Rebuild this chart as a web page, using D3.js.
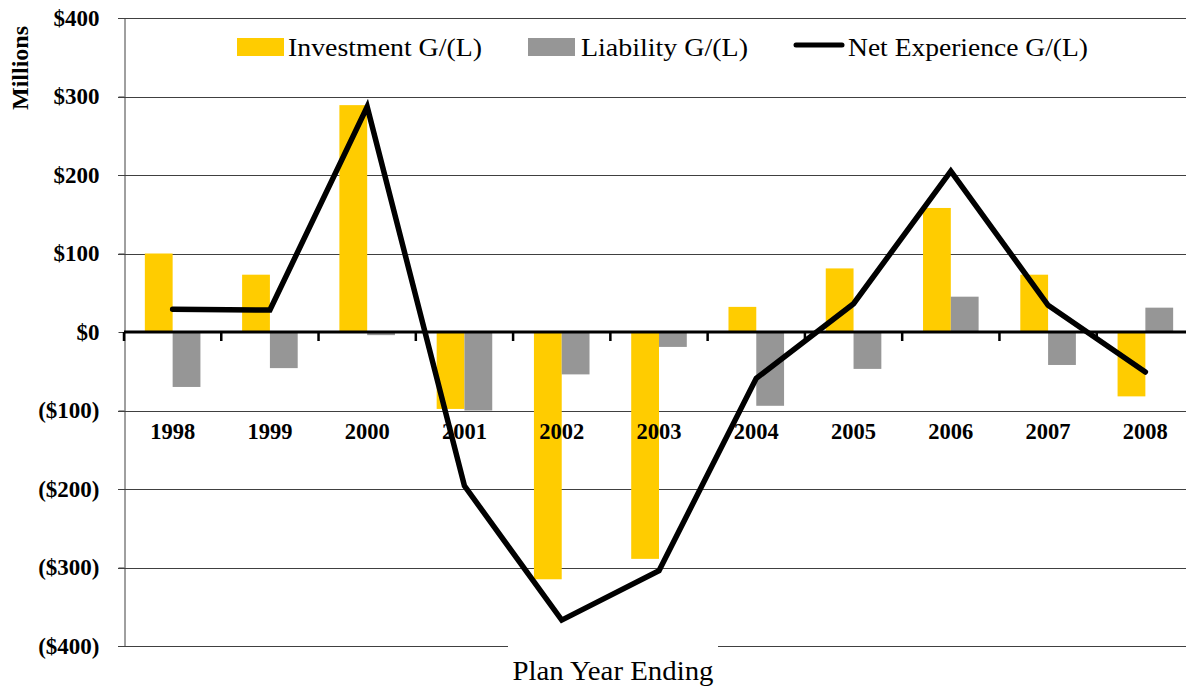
<!DOCTYPE html>
<html>
<head>
<meta charset="utf-8">
<script src="https://cdn.jsdelivr.net/npm/d3@7"></script>
<style>
  body { margin: 0; background: #fff; }
  svg { display: block; }
</style>
</head>
<body>
<div id="chart"></div>
<script>
// data (millions of dollars)
const years = ['1998', '1999', '2000', '2001', '2002', '2003', '2004', '2005', '2006', '2007', '2008'];
const investment = [100, 73, 289, -98, -315, -289, 32, 81, 158, 73, -82];
const liability = [-70, -46, -4, -100, -54, -19, -94, -47, 45, -42, 31];
const netExperience = [29, 28, 287, -196, -367, -304, -59, 36, 205, 34, -51];
const yTicks = [400, 300, 200, 100, 0, -100, -200, -300, -400];

const seriesNames = ['Investment G/(L)', 'Liability G/(L)', 'Net Experience G/(L)'];
const colors = { inv: '#FFCC00', liab: '#969696', net: '#000000' };

const W = 1186;
const H = 688;
const serif = '"Liberation Serif", "Times New Roman", serif';

const svg = d3.select('#chart')
  .append('svg')
  .attr('width', W)
  .attr('height', H);

// scales
const x = d3.scaleBand().domain(years).range([124, 1194]).paddingInner(0).paddingOuter(0);
const xSub = d3.scaleBand().domain(['inv', 'liab']).range([0, x.bandwidth()]).paddingInner(0).paddingOuter(0.75);
const y = d3.scaleLinear().domain([-400, 400]).range([646, 18]);

// gridlines
svg.append('g')
  .selectAll('line')
  .data(yTicks.filter(d => d !== 0))
  .enter()
  .append('line')
  .attr('x1', 118)
  .attr('x2', W)
  .attr('y1', d => Math.round(y(d)) + 0.5)
  .attr('y2', d => Math.round(y(d)) + 0.5)
  .attr('stroke', '#404040')
  .attr('stroke-width', 1);

// y axis
const gY = svg.append('g')
  .attr('transform', 'translate(124.5,0)')
  .call(d3.axisLeft(y).tickValues(yTicks).tickSize(6).tickPadding(19)
    .tickFormat(d => d < 0 ? `($${-d})` : `$${d}`));
gY.select('.domain').attr('stroke', '#404040');
gY.selectAll('.tick line').attr('stroke', '#404040');
gY.selectAll('text')
  .attr('font-family', serif)
  .attr('font-weight', 'bold')
  .attr('font-size', 23)
  .attr('fill', '#000');

// bars
const groups = svg.append('g')
  .selectAll('g')
  .data(years)
  .enter()
  .append('g')
  .attr('transform', d => `translate(${x(d)},0)`);

groups.append('rect')
  .attr('x', xSub('inv'))
  .attr('width', xSub.bandwidth())
  .attr('y', (d, i) => y(Math.max(0, investment[i])))
  .attr('height', (d, i) => Math.abs(y(investment[i]) - y(0)))
  .attr('fill', colors.inv);

groups.append('rect')
  .attr('x', xSub('liab'))
  .attr('width', xSub.bandwidth())
  .attr('y', (d, i) => y(Math.max(0, liability[i])))
  .attr('height', (d, i) => Math.abs(y(liability[i]) - y(0)))
  .attr('fill', colors.liab);

// zero axis with ticks between categories
const gX = svg.append('g')
  .attr('transform', `translate(0,${y(0)})`);
gX.append('line')
  .attr('x1', 124)
  .attr('x2', W)
  .attr('stroke', '#000')
  .attr('stroke-width', 3);
gX.selectAll('.cat-tick')
  .data(years)
  .enter()
  .append('line')
  .attr('class', 'cat-tick')
  .attr('x1', d => x(d))
  .attr('x2', d => x(d))
  .attr('y1', 0)
  .attr('y2', 9)
  .attr('stroke', '#000')
  .attr('stroke-width', 2.5);

// category labels (low position)
svg.append('g')
  .selectAll('text')
  .data(years)
  .enter()
  .append('text')
  .attr('x', d => x(d) + x.bandwidth() / 2)
  .attr('y', 439)
  .attr('text-anchor', 'middle')
  .attr('font-family', serif)
  .attr('font-weight', 'bold')
  .attr('font-size', 22.5)
  .text(d => d);

// net experience line
const line = d3.line()
  .x((d, i) => x(years[i]) + x.bandwidth() / 2)
  .y(d => y(d));

svg.append('path')
  .datum(netExperience)
  .attr('d', line)
  .attr('fill', 'none')
  .attr('stroke', colors.net)
  .attr('stroke-width', 5.5)
  .attr('stroke-linejoin', 'miter')
  .attr('stroke-linecap', 'round');

// y title
svg.append('text')
  .attr('transform', 'translate(28,68) rotate(-90)')
  .attr('text-anchor', 'middle')
  .attr('font-family', serif)
  .attr('font-weight', 'bold')
  .attr('font-size', 24)
  .text('Millions');

// x title with white backing
const xTitle = svg.append('g');
xTitle.append('rect')
  .attr('x', 508)
  .attr('y', 640)
  .attr('width', 210)
  .attr('height', 48)
  .attr('fill', '#fff');
xTitle.append('text')
  .attr('x', 613)
  .attr('y', 680)
  .attr('text-anchor', 'middle')
  .attr('font-family', serif)
  .attr('font-size', 27)
  .attr('textLength', 201)
  .attr('lengthAdjust', 'spacingAndGlyphs')
  .text('Plan Year Ending');

// legend
const legend = svg.append('g');
const legendItems = [
  { name: seriesNames[0], key: 'inv', sx: 237, tx: 288, tw: 194 },
  { name: seriesNames[1], key: 'liab', sx: 528, tx: 581, tw: 167 },
  { name: seriesNames[2], key: 'net', sx: 794, tx: 848, tw: 240 }
];
legendItems.forEach(item => {
  if (item.key === 'net') {
    legend.append('line')
      .attr('x1', item.sx + 2)
      .attr('x2', item.sx + 48)
      .attr('y1', 45)
      .attr('y2', 45)
      .attr('stroke', colors.net)
      .attr('stroke-width', 5)
      .attr('stroke-linecap', 'round');
  } else {
    legend.append('rect')
      .attr('x', item.sx)
      .attr('y', 38)
      .attr('width', 47)
      .attr('height', 18)
      .attr('fill', colors[item.key]);
  }
  legend.append('text')
    .attr('x', item.tx)
    .attr('y', 56)
    .attr('font-family', serif)
    .attr('font-size', 25)
    .attr('textLength', item.tw)
    .attr('lengthAdjust', 'spacingAndGlyphs')
    .text(item.name);
});
</script>
</body>
</html>
